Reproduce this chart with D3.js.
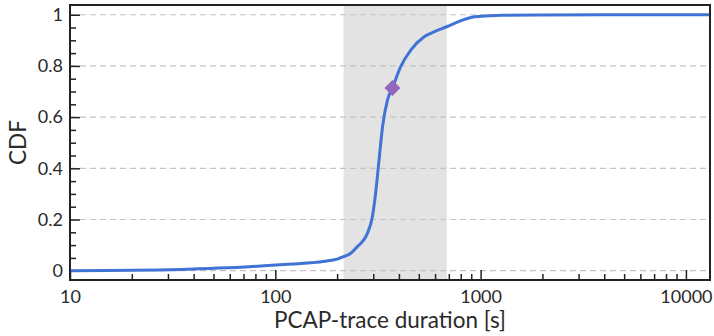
<!DOCTYPE html>
<html>
<head>
<meta charset="utf-8">
<script src="https://d3js.org/d3.v7.min.js"></script>
<style>
  body { margin: 0; background: #fff; }
  text { font-family: Lato, "Open Sans", sans-serif; fill: #2a2a2a; }
</style>
</head>
<body>
<div id="chart"></div>
<script>
// CDF of trace durations
var durations = [10, 15, 20, 27, 35, 48, 65, 85, 110, 149, 175, 200, 215, 233, 251, 261, 281, 297, 308, 320, 333, 352, 372, 408, 457, 531, 600, 683, 802, 931, 1100, 1260, 2000, 4000, 8000, 13100];
var cdf = [0, 0.001, 0.002, 0.003, 0.005, 0.009, 0.013, 0.018, 0.024, 0.031, 0.037, 0.045, 0.055, 0.068, 0.094, 0.107, 0.146, 0.211, 0.302, 0.432, 0.563, 0.667, 0.714, 0.797, 0.862, 0.914, 0.935, 0.953, 0.977, 0.992, 0.996, 0.998, 0.999, 1, 1, 1];
var band = [215, 685];
var marker = [372, 0.714];
var xTicks = [10, 100, 1000, 10000];
var yTicks = [0, 0.2, 0.4, 0.6, 0.8, 1];

var W = 714, H = 336;
var pL = 70, pR = 710, pT = 5, pB = 280;

var svg = d3.select("#chart").append("svg")
  .attr("width", W).attr("height", H);

var x = d3.scaleLog().domain([10, 13100]).range([pL, pR]);
var y = d3.scaleLinear().domain([-0.0363, 1.038]).range([pB, pT]);

// shaded interval
svg.append("rect")
  .attr("x", x(band[0])).attr("y", pT)
  .attr("width", x(band[1]) - x(band[0]))
  .attr("height", pB - pT)
  .attr("fill", "#e3e3e3");

// horizontal grid
svg.append("g").selectAll("line").data(yTicks).join("line")
  .attr("x1", pL).attr("x2", pR)
  .attr("y1", d => y(d)).attr("y2", d => y(d))
  .attr("stroke", "#c4c4c4").attr("stroke-width", 1.2)
  .attr("stroke-dasharray", "6,4");

// x axis (ticks pointing in)
var xMinor = [];
for (var dec = 10; dec <= 10000; dec *= 10)
  for (var m = 2; m <= 9; m++) if (dec * m <= 13100) xMinor.push(dec * m);

svg.append("g").attr("transform", "translate(0," + pB + ")")
  .call(d3.axisBottom(x).tickValues(xMinor).tickSize(-6).tickFormat(""))
  .call(g => g.select(".domain").remove());
var xa = svg.append("g").attr("transform", "translate(0," + pB + ")")
  .call(d3.axisBottom(x).tickValues(xTicks).tickSize(-10).tickPadding(17).tickFormat(d3.format("d")));
xa.select(".domain").remove();
xa.selectAll("text").attr("font-size", 18).attr("dy", "0.35em");

// y axis
var yMinor = d3.range(0, 1.001, 0.05).filter(v => Math.abs(v * 5 - Math.round(v * 5)) > 1e-6);
svg.append("g").attr("transform", "translate(" + pL + ",0)")
  .call(d3.axisLeft(y).tickValues(yMinor).tickSize(-6).tickFormat(""))
  .call(g => g.select(".domain").remove());
var ya = svg.append("g").attr("transform", "translate(" + pL + ",0)")
  .call(d3.axisLeft(y).tickValues(yTicks).tickSize(-10).tickPadding(7).tickFormat(d3.format("")));
ya.select(".domain").remove();
ya.selectAll("text").attr("font-size", 18);

svg.selectAll(".tick line").attr("stroke", "#222").attr("stroke-width", 1.5);

// curve
var line = d3.line()
  .x((d, i) => x(durations[i]))
  .y(d => y(d))
  .curve(d3.curveMonotoneX);
svg.append("path").datum(cdf)
  .attr("d", line)
  .attr("fill", "none")
  .attr("stroke", "#3f74d6")
  .attr("stroke-width", 3);

// median marker
svg.append("path")
  .attr("d", d3.symbol(d3.symbolSquare, 128)())
  .attr("transform", "translate(" + x(marker[0]) + "," + y(marker[1]) + ") rotate(45)")
  .attr("fill", "#9467bd");

// frame
svg.append("rect")
  .attr("x", pL).attr("y", pT)
  .attr("width", pR - pL).attr("height", pB - pT)
  .attr("fill", "none").attr("stroke", "#222").attr("stroke-width", 2);

// labels
svg.append("text")
  .attr("x", (pL + pR) / 2).attr("y", 328)
  .attr("text-anchor", "middle").attr("font-size", 22.5)
  .text("PCAP-trace duration [s]");
svg.append("text")
  .attr("transform", "translate(26," + (pT + pB) / 2 + ") rotate(-90)")
  .attr("text-anchor", "middle").attr("font-size", 22.5)
  .text("CDF");
</script>
</body>
</html>
